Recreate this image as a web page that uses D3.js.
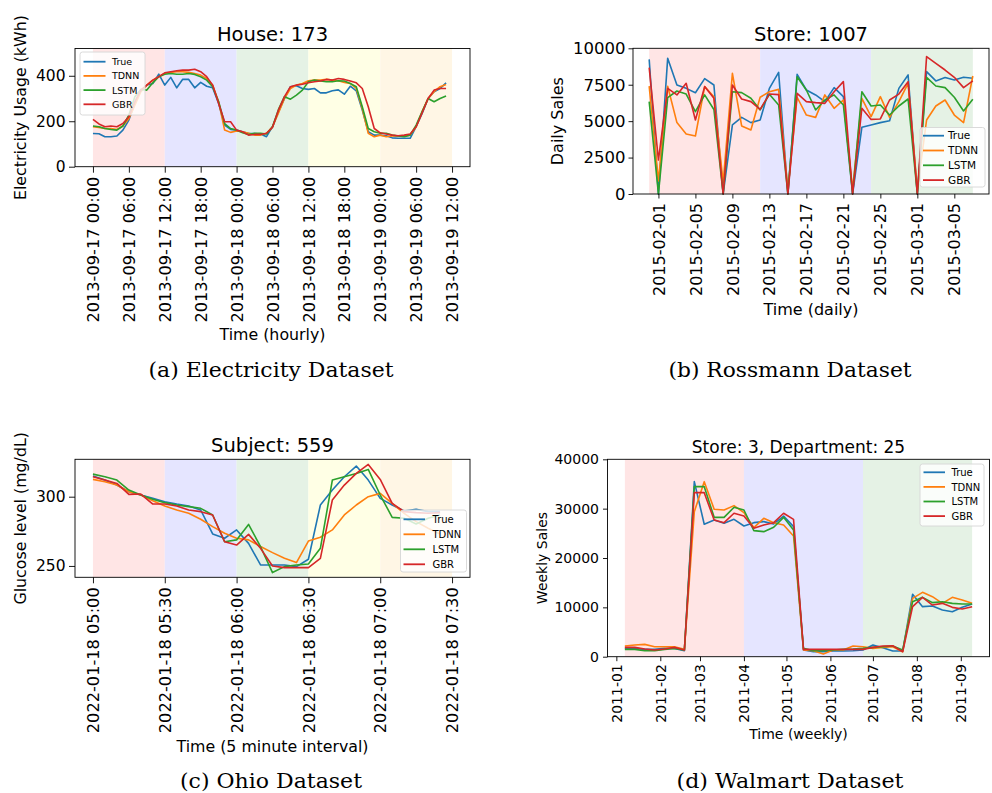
<!DOCTYPE html>
<html>
<head>
<meta charset="utf-8">
<script src="https://cdn.jsdelivr.net/npm/d3@7"></script>
<style>
  body { margin: 0; background: #fff; }
  svg { display: block; }
</style>
</head>
<body>
<svg id="chart" width="992" height="793"></svg>
<script>
// ---------------- DATA ----------------
const seriesNames = ["True", "TDNN", "LSTM", "GBR"];

// (a) Electricity – hourly from 2013-09-17 00:00
const elecStart = "2013-09-17 00:00";
const elecTrue = [146,145,132,132,135,161,205,278,334,359,366,407,359,393,347,385,384,347,371,354,347,278,183,164,161,154,146,146,144,132,176,242,300,352,356,344,340,344,325,325,334,338,319,354,334,249,154,139,139,136,127,125,125,125,176,234,300,330,344,369];
const elecTDNN = [176,173,168,168,164,179,212,271,330,359,381,396,410,415,418,418,415,410,403,388,359,286,161,151,157,154,147,139,139,147,176,237,300,344,359,366,378,381,381,384,381,378,371,366,344,256,147,132,139,132,135,135,135,139,176,242,300,330,352,362];
const elecLSTM = [179,176,168,164,161,179,227,308,340,337,369,396,407,410,407,407,410,406,396,381,352,286,190,168,161,149,142,147,147,144,176,252,308,297,315,337,374,381,377,374,374,378,377,366,352,264,168,154,147,147,139,135,132,139,183,242,300,286,300,311];
const elecGBR = [208,188,176,179,176,190,220,286,337,359,381,396,413,418,422,425,425,429,418,396,359,278,198,198,161,154,139,142,142,147,173,249,308,352,359,363,369,374,377,384,381,388,384,377,369,344,264,168,149,144,139,136,139,144,176,237,300,337,344,344];
const elecTicks = ["2013-09-17 00:00","2013-09-17 06:00","2013-09-17 12:00","2013-09-17 18:00","2013-09-18 00:00","2013-09-18 06:00","2013-09-18 12:00","2013-09-18 18:00","2013-09-19 00:00","2013-09-19 06:00","2013-09-19 12:00"];
const elecSpans = ["2013-09-17 00:00","2013-09-17 12:00","2013-09-18 00:00","2013-09-18 12:00","2013-09-19 00:00","2013-09-19 12:00"];
const elecYTicks = [0, 200, 400];

// (b) Rossmann – daily from 2015-01-31
const rossStart = "2015-01-31";
const rossTrue = [9240,0,9310,7480,7250,6950,7920,7480,0,4740,5260,4900,5080,7250,8350,0,8210,7140,6800,6340,7300,6680,0,4580,4740,4900,5030,7250,8170,0,8400,7760,7990,7830,8010,7940];
const rossTDNN = [7400,900,7400,4900,4120,3980,7370,6680,800,8280,4670,4390,6640,7020,7180,300,6640,5420,5260,6800,5880,6450,300,6570,5310,6680,5260,6340,7600,300,5080,6040,6450,5420,4900,8100];
const rossLSTM = [6340,0,6610,7070,6860,5650,6800,5800,0,7020,6960,6570,5770,6840,6110,0,8050,7140,5770,6450,6800,6110,0,7020,6040,6110,5420,6040,6520,0,8010,7410,7300,6640,5700,6500];
const rossGBR = [8670,2330,7250,6800,7600,5080,7370,6570,0,7480,6520,6340,5810,6860,6820,0,6910,6340,6270,6220,7020,7710,0,5880,5120,5150,6450,6860,7710,0,9430,8970,8510,8010,7300,7760];
const rossTicks = ["2015-02-01","2015-02-05","2015-02-09","2015-02-13","2015-02-17","2015-02-21","2015-02-25","2015-03-01","2015-03-05"];
const rossSpans = ["2015-01-31","2015-02-12","2015-02-24","2015-03-07"];
const rossYTicks = [0, 2500, 5000, 7500, 10000];

// (c) Ohio – 5 minute interval from 2022-01-18 05:00
const ohioStart = "2022-01-18 05:00";
const ohioTrue = [314.9,312.0,308.4,303.6,301.2,298.8,296.4,294.7,293.3,290.4,273.1,270.0,276.0,266.3,250.7,250.7,250.7,249.5,254.8,294.0,304.8,314.4,322.1,312.0,298.8,294.0,289.7,290.9,289.2,289.2];
const ohioTDNN = [312.5,310.8,308.4,303.6,301.2,297.1,293.3,290.4,288.0,283.7,278.4,273.6,270.0,268.8,264.0,259.6,255.5,252.4,268.0,270.7,276.0,286.8,294.0,300.0,302.4,295.2,288.0,282.0,277.2,273.1];
const ohioLSTM = [316.3,314.4,312.0,304.8,301.2,298.1,295.7,294.0,292.8,291.6,286.8,267.5,268.8,280.0,264.0,245.2,249.5,250.7,251.4,262.7,312.0,314.4,316.8,319.7,301.2,285.1,284.4,280.3,284.4,286.8];
const ohioGBR = [314.4,312.0,309.6,301.7,301.9,294.7,294.7,293.3,290.4,289.2,286.8,267.5,265.1,272.8,262.7,250.0,248.8,248.8,248.8,255.5,297.6,308.4,316.8,323.3,312.5,295.2,289.2,288.5,288.0,288.5];
const ohioTicks = ["2022-01-18 05:00","2022-01-18 05:30","2022-01-18 06:00","2022-01-18 06:30","2022-01-18 07:00","2022-01-18 07:30"];
const ohioSpans = ["2022-01-18 05:00","2022-01-18 05:30","2022-01-18 06:00","2022-01-18 06:30","2022-01-18 07:00","2022-01-18 07:30"];
const ohioYTicks = [250, 300];

// (d) Walmart – weekly from 2011-01-07
const walStart = "2011-01-07";
const walTrue = [1690,1690,1490,1490,1690,1690,1220,35470,26830,27700,27030,27840,26490,27160,27370,26890,28510,26350,1350,1010,1010,1150,1150,1220,1350,2360,1820,1150,1150,12640,10140,10270,9460,9120,10000,10680];
const walTDNN = [2160,2360,2500,2030,2030,2030,1490,29390,35470,29870,29730,30610,29190,26150,28040,27160,26690,24460,1350,1220,540,1350,1350,2160,2030,1690,1890,2030,1010,11820,13040,12160,10810,12030,11490,10810];
const walLSTM = [1490,1490,1220,1220,1490,1690,1350,34460,34460,28240,28240,30270,29730,25540,25340,26220,28240,25680,1690,1220,1220,1350,1490,1560,1690,1890,2030,2160,1350,11150,12030,10950,11150,10810,10680,10680];
const walGBR = [1890,1890,1560,1350,1560,1890,1350,33240,33240,27700,27160,29060,28510,26010,26690,27160,29060,27840,1490,1490,1490,1490,1490,1490,1490,1890,2160,2230,1010,10140,12030,10470,10810,10000,9660,10140];
const walTicks = ["2011-01","2011-02","2011-03","2011-04","2011-05","2011-06","2011-07","2011-08","2011-09"];
const walSpans = ["2011-01-07","2011-04-01","2011-06-24","2011-09-09"];
const walYTicks = [0, 10000, 20000, 30000, 40000];

// ---------------- STYLE ----------------
const seriesColors = ["#1f77b4", "#ff7f0e", "#2ca02c", "#d62728"];
const spanColors = ["#ffe5e5", "#e5e5ff", "#e5f2e5", "#ffffe5", "#fff6e5"];
const SANS = "'DejaVu Sans', sans-serif";
const SERIF = "'DejaVu Serif', serif";

const pMin = d3.utcParse("%Y-%m-%d %H:%M");
const pDay = d3.utcParse("%Y-%m-%d");
const pMon = d3.utcParse("%Y-%m");

const svg = d3.select("#chart");

function drawPanel(c) {
  const g = svg.append("g");
  const all = c.dates.concat(c.spans);
  const [lo, hi] = d3.extent(all);
  const pad = (hi - lo) * 0.05;
  const x = d3.scaleUtc().domain([new Date(+lo - pad), new Date(+hi + pad)]).range([c.x0, c.x1]);
  const y = d3.scaleLinear().domain(c.yDomain).range([c.y1, c.y0]);

  // shaded windows
  for (let i = 0; i < c.spans.length - 1; i++) {
    g.append("rect")
      .attr("x", x(c.spans[i])).attr("y", c.y0)
      .attr("width", x(c.spans[i + 1]) - x(c.spans[i]))
      .attr("height", c.y1 - c.y0)
      .attr("fill", spanColors[i]);
  }

  // lines
  const line = d3.line().x(d => x(d[0])).y(d => y(d[1]));
  c.series.forEach((s, k) => {
    g.append("path")
      .datum(s.map((v, i) => [c.dates[i], v]))
      .attr("d", line)
      .attr("fill", "none")
      .attr("stroke", seriesColors[k])
      .attr("stroke-width", 1.6)
      .attr("stroke-linejoin", "round");
  });

  // x axis
  const xa = g.append("g")
    .attr("transform", `translate(0,${c.y1})`)
    .call(d3.axisBottom(x).tickValues(c.xTicks).tickFormat(c.xFmt).tickSize(c.tick).tickSizeOuter(0));
  xa.select(".domain").remove();
  xa.attr("font-family", SANS).attr("font-size", c.xTickFs);
  xa.selectAll("line").attr("stroke", "#000").attr("stroke-width", 0.9);
  xa.selectAll("text")
    .attr("fill", "#000")
    .attr("transform", "rotate(-90)")
    .attr("x", -(c.tick + c.xPad))
    .attr("y", 0)
    .attr("dy", "0.35em")
    .attr("text-anchor", "end");

  // y axis
  const ya = g.append("g")
    .attr("transform", `translate(${c.x0},0)`)
    .call(d3.axisLeft(y).tickValues(c.yTicks).tickFormat(d3.format("d")).tickSize(c.tick).tickPadding(c.yPad).tickSizeOuter(0));
  ya.select(".domain").remove();
  ya.attr("font-family", SANS).attr("font-size", c.yTickFs);
  ya.selectAll("line").attr("stroke", "#000").attr("stroke-width", 0.9);
  ya.selectAll("text").attr("fill", "#000");

  // frame
  g.append("rect")
    .attr("x", c.x0).attr("y", c.y0)
    .attr("width", c.x1 - c.x0).attr("height", c.y1 - c.y0)
    .attr("fill", "none").attr("stroke", "#000").attr("stroke-width", 0.9);

  // title
  g.append("text")
    .attr("x", (c.x0 + c.x1) / 2).attr("y", c.titleY)
    .attr("text-anchor", "middle")
    .attr("font-family", SANS).attr("font-size", c.titleFs)
    .text(c.title);

  // x label
  g.append("text")
    .attr("x", (c.x0 + c.x1) / 2).attr("y", c.xLabelY)
    .attr("text-anchor", "middle")
    .attr("font-family", SANS).attr("font-size", c.labelFs)
    .text(c.xLabel);

  // y label
  g.append("text")
    .attr("transform", `translate(${c.yLabelX},${(c.y0 + c.y1) / 2}) rotate(-90)`)
    .attr("text-anchor", "middle")
    .attr("font-family", SANS).attr("font-size", c.labelFs)
    .text(c.yLabel);

  // legend
  const L = c.legend;
  const lg = g.append("g");
  lg.append("rect")
    .attr("x", L.x).attr("y", L.y).attr("width", L.w).attr("height", L.h)
    .attr("rx", 2.5).attr("fill", "#fff").attr("fill-opacity", 0.8)
    .attr("stroke", "#d6d6d6").attr("stroke-width", 0.9);
  seriesNames.forEach((name, k) => {
    const ry = L.row0 + k * L.step;
    lg.append("line")
      .attr("x1", L.lx0).attr("x2", L.lx1).attr("y1", ry).attr("y2", ry)
      .attr("stroke", seriesColors[k]).attr("stroke-width", 1.8);
    lg.append("text")
      .attr("x", L.tx).attr("y", ry).attr("dy", "0.36em")
      .attr("font-family", SANS).attr("font-size", L.fs)
      .text(name);
  });

  // caption
  svg.append("text")
    .attr("x", c.capX).attr("y", c.capY)
    .attr("text-anchor", "middle")
    .attr("font-family", SERIF).attr("font-size", 20)
    .attr("textLength", c.capW).attr("lengthAdjust", "spacingAndGlyphs")
    .text(c.caption);
}

// ---------------- PANELS ----------------
const eStart = pMin(elecStart);
drawPanel({
  x0: 75, x1: 470, y0: 48.5, y1: 166.7,
  dates: elecTrue.map((_, i) => d3.utcHour.offset(eStart, i)),
  spans: elecSpans.map(pMin),
  series: [elecTrue, elecTDNN, elecLSTM, elecGBR],
  yDomain: [0, 520], yTicks: elecYTicks,
  xTicks: elecTicks.map(pMin), xFmt: d3.utcFormat("%Y-%m-%d %H:%M"),
  tick: 6, xPad: 4, yPad: 3.5, xTickFs: 16.2, yTickFs: 15.5,
  title: "House: 173", titleY: 40.5, titleFs: 19.5,
  xLabel: "Time (hourly)", xLabelY: 340, labelFs: 15.8,
  yLabel: "Electricity Usage (kWh)", yLabelX: 26,
  legend: {x: 80, y: 52, w: 65, h: 63, row0: 61.7, step: 14.2, lx0: 83.5, lx1: 105.5, tx: 112, fs: 9.5},
  caption: "(a) Electricity Dataset", capX: 271, capY: 377, capW: 245
});

const rStart = pDay(rossStart);
drawPanel({
  x0: 633, x1: 989, y0: 48.3, y1: 194,
  dates: rossTrue.map((_, i) => d3.utcDay.offset(rStart, i)),
  spans: rossSpans.map(pDay),
  series: [rossTrue, rossTDNN, rossLSTM, rossGBR],
  yDomain: [0, 10000], yTicks: rossYTicks,
  xTicks: rossTicks.map(pDay), xFmt: d3.utcFormat("%Y-%m-%d"),
  tick: 4.5, xPad: 4.5, yPad: 3, xTickFs: 16, yTickFs: 16.5,
  title: "Store: 1007", titleY: 40.5, titleFs: 19.5,
  xLabel: "Time (daily)", xLabelY: 315, labelFs: 16,
  yLabel: "Daily Sales", yLabelX: 563,
  legend: {x: 920, y: 127.5, w: 65, h: 59.5, row0: 135.7, step: 14.8, lx0: 923, lx1: 944, tx: 948, fs: 10.5},
  caption: "(b) Rossmann Dataset", capX: 790, capY: 377, capW: 243
});

const oStart = pMin(ohioStart);
drawPanel({
  x0: 75, x1: 470, y0: 459.3, y1: 577.3,
  dates: ohioTrue.map((_, i) => d3.utcMinute.offset(oStart, 5 * i)),
  spans: ohioSpans.map(pMin),
  series: [ohioTrue, ohioTDNN, ohioLSTM, ohioGBR],
  yDomain: [241.8, 327], yTicks: ohioYTicks,
  xTicks: ohioTicks.map(pMin), xFmt: d3.utcFormat("%Y-%m-%d %H:%M"),
  tick: 6, xPad: 4, yPad: 3.5, xTickFs: 16.2, yTickFs: 15.5,
  title: "Subject: 559", titleY: 451.5, titleFs: 19.5,
  xLabel: "Time (5 minute interval)", xLabelY: 751.5, labelFs: 15.8,
  yLabel: "Glucose level (mg/dL)", yLabelX: 26,
  legend: {x: 400.5, y: 510, w: 66, h: 62, row0: 519.3, step: 15, lx0: 403.5, lx1: 425, tx: 432.5, fs: 10},
  caption: "(c) Ohio Dataset", capX: 271, capY: 788, capW: 182
});

const wStart = pDay(walStart);
drawPanel({
  x0: 607.5, x1: 989.5, y0: 459.3, y1: 656.7,
  dates: walTrue.map((_, i) => d3.utcDay.offset(wStart, 7 * i)),
  spans: walSpans.map(pDay),
  series: [walTrue, walTDNN, walLSTM, walGBR],
  yDomain: [0, 40000], yTicks: walYTicks,
  xTicks: walTicks.map(pMon), xFmt: d3.utcFormat("%Y-%m"),
  tick: 4.5, xPad: 3, yPad: 4, xTickFs: 14, yTickFs: 14,
  title: "Store: 3, Department: 25", titleY: 453, titleFs: 17,
  xLabel: "Time (weekly)", xLabelY: 738.5, labelFs: 14,
  yLabel: "Weekly Sales", yLabelX: 547,
  legend: {x: 920, y: 464, w: 64, h: 62, row0: 472.3, step: 14.6, lx0: 923.5, lx1: 945, tx: 951.5, fs: 10},
  caption: "(d) Walmart Dataset", capX: 790, capY: 788, capW: 227
});
</script>
</body>
</html>
